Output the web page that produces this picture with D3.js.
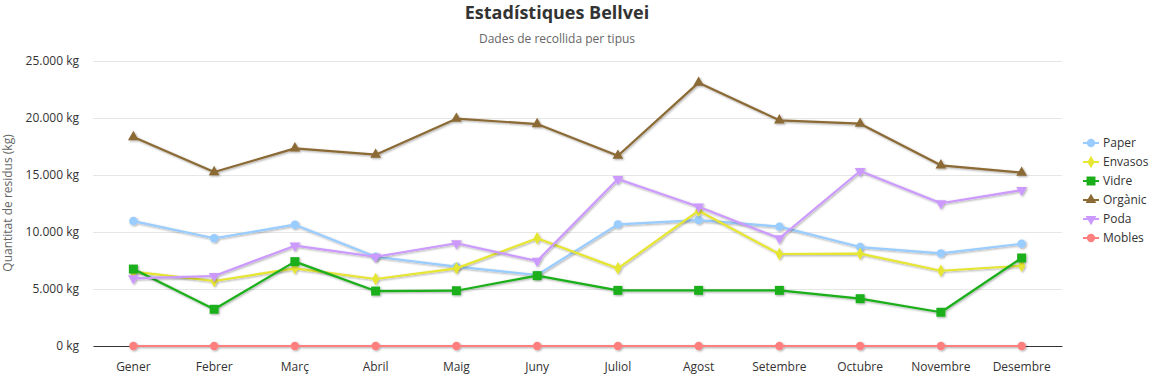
<!DOCTYPE html>
<html><head><meta charset="utf-8">
<script src="https://cdn.jsdelivr.net/npm/d3@7"></script>
<style>
body{margin:0;background:#fff;}
text{font-family:"Open Sans","Noto Sans",sans-serif;}
</style></head>
<body><svg id="c" width="1155" height="378"></svg>
<script>
const months = ["Gener","Febrer","Març","Abril","Maig","Juny","Juliol","Agost","Setembre","Octubre","Novembre","Desembre"];
const seriesNames = ["Paper","Envasos","Vidre","Orgànic","Poda","Mobles"];
const paper   = [10960, 9450,10640, 7830, 6960, 6230,10670,11050,10470, 8680, 8130, 8970];
const envasos = [ 6520, 5700, 6810, 5880, 6810, 9450, 6810,11870, 8070, 8100, 6600, 7040];
const vidre   = [ 6750, 3220, 7400, 4820, 4850, 6170, 4880, 4880, 4880, 4150, 2960, 7720];
const organic = [18330,15260,17340,16780,19940,19470,16690,23100,19800,19500,15850,15200];
const poda    = [ 5940, 6140, 8800, 7830, 9010, 7460,14650,12220, 9450,15350,12520,13680];
const mobles  = [0,0,0,0,0,0,0,0,0,0,0,0];
const yTicks = [0,5000,10000,15000,20000,25000];

const seriesData = [paper, envasos, vidre, organic, poda, mobles];
const colors = ["#99ccff","#e6e633","#1aaf1a","#8b6a35","#cc99ff","#ff7f7f"];
const symbols = [d3.symbolCircle, d3.symbolDiamond, d3.symbolSquare, d3.symbolTriangle, d3.symbolTriangle, d3.symbolCircle];
const rotations = [0,0,0,0,180,0];
const sizes = [55,45,80,50,50,55];

const svg = d3.select("#c");
const defs = svg.append("defs");
const f = defs.append("filter").attr("id","sh").attr("x","-10%").attr("y","-20%").attr("width","130%").attr("height","150%");
f.append("feDropShadow").attr("dx",1).attr("dy",1).attr("stdDeviation",1.2).attr("flood-color","#000").attr("flood-opacity",0.35);

const L=93, R=1062, T=61, B=346;
const x = d3.scaleBand().domain(months).range([L,R]);
const y = d3.scaleLinear().domain([0,25000]).range([B,T]);

svg.append("text").attr("x",557).attr("y",19).attr("text-anchor","middle")
  .attr("font-size",18).attr("font-weight","bold").attr("fill","#333").text("Estadístiques Bellvei");
svg.append("text").attr("x",557).attr("y",43).attr("text-anchor","middle")
  .attr("font-size",12).attr("fill","#666").text("Dades de recollida per tipus");

const fmt = v => d3.format(",")(v).replace(/,/g,".") + " kg";
const yAxis = svg.append("g").attr("transform",`translate(${L},0)`)
  .call(d3.axisLeft(y).tickValues(yTicks).tickSize(-(R-L)).tickFormat(fmt).tickPadding(14));
yAxis.select(".domain").remove();
yAxis.selectAll(".tick line").attr("stroke","#e6e6e6");
yAxis.selectAll(".tick text").attr("font-size",12).attr("fill","#333");

svg.append("text").attr("transform",`translate(12,203) rotate(-90)`).attr("text-anchor","middle")
  .attr("font-size",12).attr("fill","#666").text("Quantitat de residus (kg)");

const xAxis = svg.append("g").attr("transform",`translate(0,${B})`)
  .call(d3.axisBottom(x).tickSize(0).tickPadding(16));
xAxis.select(".domain").attr("stroke","#333").attr("stroke-width",1.2);
xAxis.selectAll(".tick text").attr("font-size",12).attr("fill","#333");

const line = d3.line().x((d,i)=>x(months[i])+x.bandwidth()/2).y(d=>y(d));
seriesData.forEach((data,si)=>{
  const g = svg.append("g").attr("filter","url(#sh)");
  g.append("path").datum(data).attr("d",line).attr("fill","none")
    .attr("stroke",colors[si]).attr("stroke-width",2.2).attr("stroke-linejoin","round");
  g.selectAll("path.m").data(data).enter().append("path").attr("class","m")
    .attr("d",d3.symbol().type(symbols[si]).size(sizes[si]))
    .attr("transform",(d,i)=>`translate(${x(months[i])+x.bandwidth()/2},${y(d)}) rotate(${rotations[si]})`)
    .attr("fill",colors[si]);
});

const lg = svg.append("g");
seriesNames.forEach((n,i)=>{
  const yy = 143 + i*19;
  lg.append("line").attr("x1",1083).attr("x2",1099).attr("y1",yy).attr("y2",yy).attr("stroke",colors[i]).attr("stroke-width",2);
  lg.append("path").attr("d",d3.symbol().type(symbols[i]).size(sizes[i]))
    .attr("transform",`translate(1091,${yy}) rotate(${rotations[i]})`).attr("fill",colors[i]);
  lg.append("text").attr("x",1103).attr("y",yy+4).attr("font-size",12).attr("fill","#333").text(n);
});
</script></body></html>
